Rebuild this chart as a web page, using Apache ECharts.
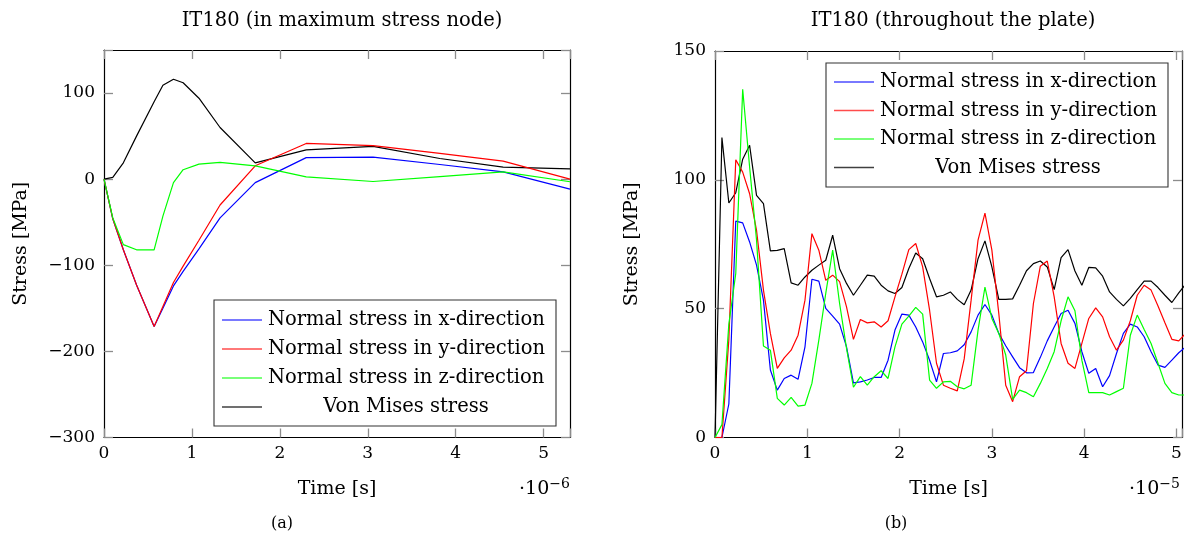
<!DOCTYPE html>
<html>
<head>
<meta charset="utf-8">
<script src="https://cdn.jsdelivr.net/npm/echarts@6/dist/echarts.min.js"></script>
<style>
html, body { margin: 0; padding: 0; background: #fff; }
#chart { width: 1190px; height: 545px; }
</style>
</head>
<body>
<div id="chart"></div>
<script>
// ---- (a) stress history in the maximum stress node, time in 1e-6 s ----
const nodeTime = [0, 0.1, 0.22, 0.37, 0.57, 0.67, 0.79, 0.9, 1.08, 1.32, 1.72, 2.3, 3.06, 3.82, 4.54, 5.3];
const nodeSx   = [0, -46, -82, -123, -171, -150, -124, -107, -81, -45, -4, 25, 25.6, 17, 8.5, -11.6];
const nodeSy   = [0, -46, -82, -123, -171, -148, -120, -101, -71, -30, 15.5, 41.5, 39, 30, 21, 0];
const nodeSz   = [0, -45, -76, -82, -82, -43, -4, 11, 17.5, 19.4, 15.5, 2.7, -2.7, 3, 8.5, -3];
const nodeVM   = [0, 2, 19, 50, 90, 109, 116, 112, 94, 60, 19, 34, 38, 24, 14, 12];

// ---- (b) maximum stress throughout the plate, time in 1e-5 s ----
const plateTime = [
  0, 0.075, 0.15, 0.225, 0.3, 0.375, 0.45, 0.525, 0.6, 0.675,
  0.75, 0.825, 0.9, 0.975, 1.05, 1.125, 1.2, 1.275, 1.35, 1.425,
  1.5, 1.575, 1.65, 1.725, 1.8, 1.875, 1.95, 2.025, 2.1, 2.175,
  2.25, 2.325, 2.4, 2.475, 2.55, 2.625, 2.7, 2.775, 2.85, 2.925,
  3.0, 3.075, 3.15, 3.225, 3.3, 3.375, 3.45, 3.525, 3.6, 3.675,
  3.75, 3.825, 3.9, 3.975, 4.05, 4.125, 4.2, 4.275, 4.35, 4.425,
  4.5, 4.575, 4.65, 4.725, 4.8, 4.875, 4.95, 5.025, 5.1
];
const plateSx = [
  0, 0, 13, 84, 83.3, 75.9, 66.9, 53.3, 26.2, 18.4,
  22.9, 24.2, 22.6, 35.2, 61.4, 60.7, 50.1, 47.1, 44, 35.2,
  21.2, 21.6, 22.3, 23.3, 23.3, 30, 41.7, 47.9, 47.5, 42.9,
  37.1, 30, 21.6, 32.6, 32.9, 33.6, 36, 41, 47.5, 51.6,
  47.5, 40.4, 35.6, 31.3, 27.1, 25.1, 25.2, 31.1, 37.5, 42.9,
  48.1, 49.4, 44.3, 33.3, 24.9, 26.8, 19.7, 24, 32.6, 40.4,
  44, 42.9, 39.1, 33.3, 28.1, 27.2, 30, 32.9, 35.2
];
const plateSy = [
  0, 0, 38, 107.8, 103, 94.6, 80.4, 57.2, 40.4, 26.8,
  30.9, 33.9, 39.7, 53.3, 79.1, 72.7, 61, 63, 60.5, 50.7,
  38.1, 45.8, 44.5, 44.9, 42.9, 45.3, 54.6, 63.4, 72.9, 75.3,
  66.2, 49.4, 28.8, 20.3, 19.1, 18.1, 30.5, 53.3, 76.6, 87.1,
  72.7, 48.1, 20.3, 13.9, 23.6, 25.9, 52, 66.5, 68.5, 54.6,
  36.5, 28.8, 26.8, 36.5, 46.2, 50.3, 46.8, 39.1, 33.9, 37.8,
  45.3, 55.2, 59.1, 57.2, 51, 44.5, 38.1, 37.5, 40.4
];
const plateSz = [
  0, 5, 44, 63.7, 135.1, 105, 76.6, 35.5, 33.9, 15.2,
  12.6, 15.6, 12.2, 12.6, 21, 37.8, 55.9, 72.7, 52, 34.6,
  19.5, 23.6, 20.3, 23.6, 25.9, 22.9, 35.2, 44, 47.1, 50.5,
  47.9, 22.3, 19.1, 21.6, 21.8, 19.7, 18.9, 20.3, 41.7, 58.4,
  46.2, 40.4, 32, 14.8, 18.4, 17.4, 15.8, 21, 26.8, 33.3,
  45.3, 54.6, 49.2, 30, 17.4, 17.4, 17.4, 16.5, 17.8, 19.1,
  39.7, 47.5, 41.9, 36.5, 28.8, 21, 17.4, 16.5, 16.5
];
const plateVM = [
  0, 116.4, 91, 95, 108, 113.4, 94, 90.8, 72.4, 72.6,
  73.3, 60, 59.1, 62.3, 64.9, 66.9, 68.8, 78.5, 65.5, 59.8,
  55.2, 59.1, 63, 62.6, 59.1, 56.9, 55.9, 58.2, 65.6, 71.6,
  69.4, 61.7, 54.6, 55.2, 56.5, 53.6, 51.5, 57.2, 69.4, 76.3,
  66.2, 53.6, 53.6, 53.8, 59.1, 64.7, 67.5, 68.5, 66.2, 57.4,
  69.8, 72.9, 64.6, 59.1, 66, 65.8, 62.6, 56.5, 53.6, 51.1,
  54, 57.4, 60.7, 60.7, 58.2, 55.2, 52.4, 56.1, 59.5
];

const seriesNames = [
  'Normal stress in x-direction',
  'Normal stress in y-direction',
  'Normal stress in z-direction',
  'Von Mises stress'
];
const seriesColors = ['#0000ff', '#ff0000', '#00ff00', '#000000'];

const FONT = 'DejaVu Serif';
const TICK_SIZE = 17;
const NAME_SIZE = 19;
const TEXT_SIZE = 19.5;

const minus = v => String(v).replace('-', '\u2212');

function frameAxis(extra) {
  return Object.assign({
    type: 'value',
    splitLine: { show: false },
    axisLine: { show: true, onZero: false, lineStyle: { color: '#000', width: 1.2 } },
    axisTick: { show: true, inside: true, length: 9, lineStyle: { color: '#8c8c8c', width: 1.3 } },
    axisLabel: { show: false }
  }, extra);
}

function labelled(step, margin) {
  return {
    show: true, margin: margin, color: '#000',
    fontFamily: FONT, fontSize: TICK_SIZE,
    formatter: v => (Math.abs(v / step - Math.round(v / step)) < 1e-9 ? minus(v) : '')
  };
}

const nameStyle = { fontFamily: FONT, fontSize: NAME_SIZE, color: '#000' };

function pairs(xs, ys) { return xs.map((x, i) => [x, ys[i]]); }

function lines(grid, xs, sets) {
  return sets.map((ys, i) => ({
    type: 'line', name: seriesNames[i],
    xAxisIndex: grid * 2, yAxisIndex: grid * 2,
    data: pairs(xs, ys),
    showSymbol: false, symbol: 'none', clip: true,
    lineStyle: { color: seriesColors[i], width: 1.2 },
    itemStyle: { color: seriesColors[i] },
    animation: false, z: 3 + (i === 3 ? 0 : 1)
  }));
}

// Legend box drawn as a group: sample lines with the series names
function legendBox(x, y, w, h, rowY, textX, centerX) {
  const children = [{
    type: 'rect', shape: { x: x, y: y, width: w, height: h },
    style: { fill: '#fff', stroke: '#333', lineWidth: 1.1 }
  }];
  seriesNames.forEach((name, i) => {
    children.push({
      type: 'line', shape: { x1: x + 8, y1: rowY[i], x2: x + 48, y2: rowY[i] },
      style: { stroke: seriesColors[i], lineWidth: 1.4, opacity: i === 3 ? 0.75 : 0.7 }
    });
    const last = i === 3;
    children.push({
      type: 'text',
      style: {
        text: name, x: last ? centerX : textX, y: rowY[i],
        align: last ? 'center' : 'left', verticalAlign: 'middle',
        font: `${TEXT_SIZE}px "${FONT}"`, fill: '#000'
      }
    });
  });
  return { type: 'group', z: 100, children: children };
}

function scaleNote(x, y, exp) {
  return {
    type: 'text', z: 50,
    style: {
      text: `\u00b710{e|\u2212${exp}}`, x: x, y: y,
      font: `${NAME_SIZE}px "${FONT}"`, fill: '#000',
      rich: { e: { fontFamily: FONT, fontSize: 14, verticalAlign: 'top', padding: [0, 0, 10, 0] } }
    }
  };
}

const chart = echarts.init(document.getElementById('chart'), null, { renderer: 'canvas' });

chart.setOption({
  backgroundColor: '#fff',
  animation: false,
  title: [
    { text: 'IT180 (in maximum stress node)', left: 337, top: 6, textAlign: 'center',
      textStyle: { fontFamily: FONT, fontSize: TEXT_SIZE, fontWeight: 'normal', color: '#000' } },
    { text: 'IT180 (throughout the plate)', left: 948, top: 6, textAlign: 'center',
      textStyle: { fontFamily: FONT, fontSize: TEXT_SIZE, fontWeight: 'normal', color: '#000' } }
  ],
  grid: [
    { left: 104, top: 50, width: 466, height: 387.5 },
    { left: 715, top: 51, width: 467, height: 386.5 }
  ],
  xAxis: [
    frameAxis({ gridIndex: 0, position: 'bottom', min: 0, max: 5.3, interval: 1,
      axisLabel: labelled(1, 8), name: 'Time [s]', nameLocation: 'middle', nameGap: 42, nameTextStyle: nameStyle }),
    frameAxis({ gridIndex: 0, position: 'top', min: 0, max: 5.3, interval: 1 }),
    frameAxis({ gridIndex: 1, position: 'bottom', min: 0, max: 5.06, interval: 1,
      axisLabel: labelled(1, 8), name: 'Time [s]', nameLocation: 'middle', nameGap: 42, nameTextStyle: nameStyle }),
    frameAxis({ gridIndex: 1, position: 'top', min: 0, max: 5.06, interval: 1 })
  ],
  yAxis: [
    frameAxis({ gridIndex: 0, position: 'left', min: -300, max: 150, interval: 100,
      axisLabel: labelled(100, 9), name: 'Stress [MPa]', nameLocation: 'middle', nameGap: 73, nameTextStyle: nameStyle }),
    frameAxis({ gridIndex: 0, position: 'right', min: -300, max: 150, interval: 100 }),
    frameAxis({ gridIndex: 1, position: 'left', min: 0, max: 150, interval: 50,
      axisLabel: labelled(50, 9), name: 'Stress [MPa]', nameLocation: 'middle', nameGap: 73, nameTextStyle: nameStyle }),
    frameAxis({ gridIndex: 1, position: 'right', min: 0, max: 150, interval: 50 })
  ],
  series: [
    ...lines(0, nodeTime, [nodeSx, nodeSy, nodeSz, nodeVM]),
    ...lines(1, plateTime, [plateSx, plateSy, plateSz, plateVM])
  ],
  graphic: [
    legendBox(214, 300, 342, 126, [320, 349, 378, 407], 268, 406),
    legendBox(826, 63, 342, 124, [82, 110.5, 139, 167.5], 880, 1018),
    scaleNote(519, 477, 6),
    scaleNote(1129, 477, 5),
    { type: 'text', z: 50, style: { text: '(a)', x: 282, y: 524, align: 'center', verticalAlign: 'middle',
      font: `16px "${FONT}"`, fill: '#000' } },
    { type: 'text', z: 50, style: { text: '(b)', x: 896, y: 524, align: 'center', verticalAlign: 'middle',
      font: `16px "${FONT}"`, fill: '#000' } }
  ]
});
</script>
</body>
</html>
